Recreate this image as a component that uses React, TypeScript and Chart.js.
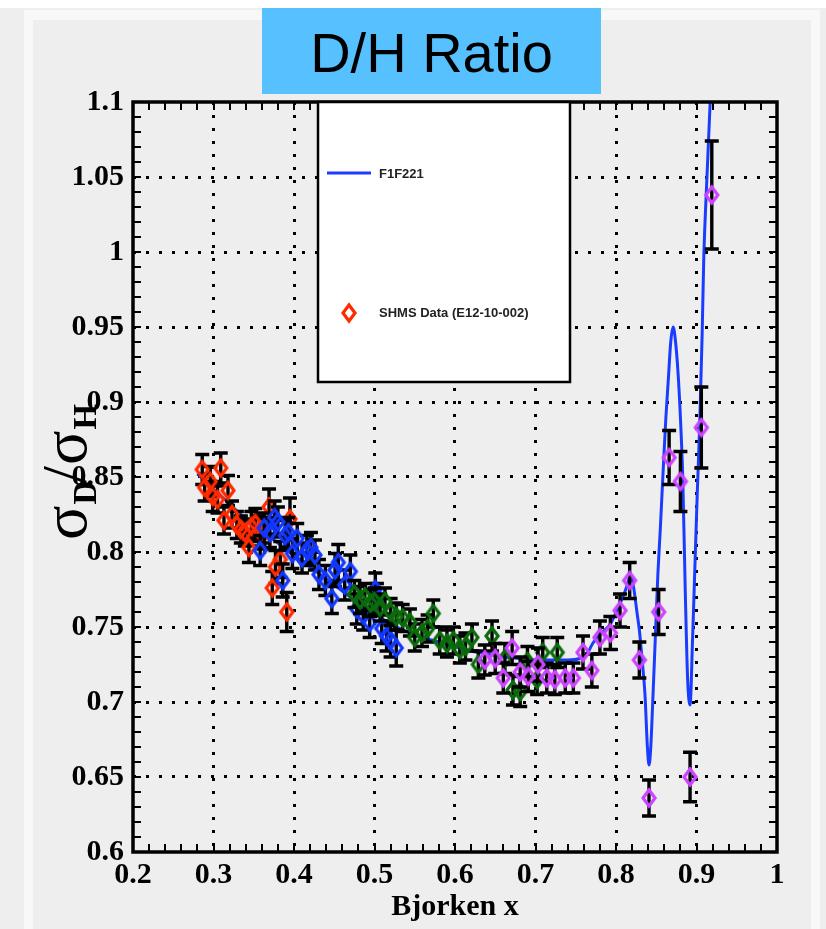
import { useEffect, useRef } from "react";
import { Chart, registerables } from "chart.js";

Chart.register(...registerables);

// SHMS D/H cross-section ratio, four kinematic settings
const redX = [0.286, 0.289, 0.296, 0.299, 0.305, 0.309, 0.313, 0.318, 0.323, 0.329, 0.334, 0.339, 0.344, 0.347, 0.352, 0.357, 0.362, 0.369, 0.373, 0.377, 0.383, 0.391, 0.395];
const redY = [0.855, 0.843, 0.847, 0.837, 0.835, 0.856, 0.821, 0.841, 0.825, 0.818, 0.815, 0.813, 0.803, 0.817, 0.819, 0.814, 0.812, 0.830, 0.776, 0.790, 0.795, 0.760, 0.822];
const redErr = [0.010, 0.009, 0.010, 0.010, 0.009, 0.010, 0.009, 0.010, 0.009, 0.009, 0.009, 0.009, 0.010, 0.010, 0.010, 0.010, 0.010, 0.012, 0.011, 0.011, 0.012, 0.013, 0.014];

const blueX = [0.358, 0.363, 0.370, 0.376, 0.380, 0.386, 0.389, 0.393, 0.398, 0.404, 0.410, 0.416, 0.421, 0.426, 0.431, 0.439, 0.447, 0.451, 0.455, 0.463, 0.470, 0.478, 0.486, 0.494, 0.501, 0.503, 0.509, 0.515, 0.520, 0.527];
const blueY = [0.801, 0.816, 0.813, 0.823, 0.820, 0.781, 0.811, 0.813, 0.799, 0.809, 0.796, 0.801, 0.803, 0.798, 0.785, 0.781, 0.769, 0.788, 0.793, 0.778, 0.787, 0.762, 0.758, 0.753, 0.775, 0.769, 0.749, 0.744, 0.741, 0.736];
const blueErr = [0.010, 0.010, 0.010, 0.011, 0.010, 0.011, 0.010, 0.010, 0.010, 0.010, 0.010, 0.010, 0.010, 0.010, 0.010, 0.010, 0.010, 0.011, 0.012, 0.010, 0.011, 0.010, 0.010, 0.010, 0.011, 0.010, 0.010, 0.010, 0.011, 0.012];

const greenX = [0.475, 0.482, 0.488, 0.495, 0.500, 0.507, 0.513, 0.520, 0.527, 0.535, 0.544, 0.550, 0.559, 0.566, 0.573, 0.581, 0.590, 0.598, 0.606, 0.613, 0.621, 0.629, 0.646, 0.662, 0.672, 0.681, 0.690, 0.702, 0.709, 0.727];
const greenY = [0.772, 0.768, 0.770, 0.766, 0.767, 0.763, 0.767, 0.760, 0.757, 0.756, 0.753, 0.743, 0.746, 0.749, 0.759, 0.741, 0.739, 0.741, 0.735, 0.737, 0.743, 0.725, 0.744, 0.729, 0.708, 0.707, 0.727, 0.715, 0.733, 0.733];
const greenErr = [0.009, 0.009, 0.009, 0.009, 0.009, 0.009, 0.009, 0.009, 0.009, 0.009, 0.009, 0.009, 0.009, 0.009, 0.009, 0.009, 0.009, 0.009, 0.009, 0.009, 0.009, 0.009, 0.010, 0.010, 0.010, 0.010, 0.010, 0.010, 0.010, 0.010];

const violetX = [0.637, 0.650, 0.660, 0.671, 0.681, 0.691, 0.703, 0.714, 0.724, 0.737, 0.747, 0.759, 0.770, 0.780, 0.793, 0.805, 0.817, 0.829, 0.841, 0.853, 0.866, 0.880, 0.892, 0.906, 0.919];
const violetY = [0.728, 0.729, 0.716, 0.736, 0.720, 0.717, 0.725, 0.716, 0.715, 0.716, 0.716, 0.733, 0.721, 0.743, 0.746, 0.761, 0.781, 0.728, 0.636, 0.760, 0.863, 0.847, 0.650, 0.883, 1.038];
const violetErr = [0.010, 0.010, 0.010, 0.011, 0.010, 0.010, 0.011, 0.010, 0.010, 0.010, 0.010, 0.011, 0.011, 0.011, 0.011, 0.011, 0.012, 0.012, 0.012, 0.015, 0.018, 0.020, 0.0165, 0.027, 0.036];

// F1F221 model curve
const modelX = [0.28, 0.30, 0.32, 0.34, 0.36, 0.38, 0.40, 0.42, 0.44, 0.46, 0.48, 0.50, 0.52, 0.54, 0.56, 0.58, 0.60, 0.62, 0.64, 0.66, 0.68, 0.70, 0.72, 0.74, 0.755, 0.765, 0.771, 0.780, 0.793, 0.802, 0.810, 0.814, 0.818, 0.822, 0.826, 0.829, 0.833, 0.836, 0.839, 0.841, 0.843, 0.846, 0.849, 0.852, 0.855, 0.858, 0.862, 0.865, 0.868, 0.871, 0.874, 0.877, 0.880, 0.883, 0.886, 0.889, 0.892, 0.895, 0.898, 0.901, 0.904, 0.907, 0.909, 0.913, 0.917, 0.921];
const modelY = [0.852, 0.842, 0.832, 0.822, 0.814, 0.806, 0.798, 0.790, 0.782, 0.774, 0.766, 0.759, 0.752, 0.747, 0.743, 0.740, 0.737, 0.734, 0.732, 0.730, 0.729, 0.728, 0.728, 0.728, 0.729, 0.733, 0.739, 0.745, 0.752, 0.762, 0.772, 0.778, 0.785, 0.776, 0.760, 0.748, 0.725, 0.705, 0.670, 0.658, 0.668, 0.705, 0.745, 0.785, 0.815, 0.848, 0.890, 0.915, 0.940, 0.950, 0.940, 0.920, 0.890, 0.848, 0.775, 0.715, 0.698, 0.740, 0.790, 0.840, 0.885, 0.945, 0.995, 1.050, 1.100, 1.150];

const xTicks = { min: 0.2, max: 1.0, step: 0.1, minor: 0.02 };
const yTicks = { min: 0.6, max: 1.1, step: 0.05, minor: 0.01 };

const RED = "#ff2a00";
const BLUE = "#1238ff";
const GREEN = "#0b6b0b";
const VIOLET = "#cc44ff";
const MODEL = "#1a3cff";

const SERIF = "'Liberation Serif', 'DejaVu Serif', serif";
const SANS = "'Liberation Sans', Arial, sans-serif";

function diamond(color: string): HTMLCanvasElement {
  const c = document.createElement("canvas");
  c.width = 18;
  c.height = 22;
  const g = c.getContext("2d")!;
  g.strokeStyle = color;
  g.lineWidth = 3.2;
  g.lineJoin = "miter";
  g.beginPath();
  g.moveTo(9, 3);
  g.lineTo(15, 11);
  g.lineTo(9, 19);
  g.lineTo(3, 11);
  g.closePath();
  g.stroke();
  return c;
}

function pts(xs: number[], ys: number[]) {
  return xs.map((x, i) => ({ x, y: ys[i] }));
}

const fmt = (v: number) => String(Number(v.toFixed(2)));

const errorBars = {
  id: "errorBars",
  beforeDatasetDraw(chart: any, args: any) {
    const ds = chart.data.datasets[args.index];
    if (!ds.errY) return;
    const { ctx, scales, chartArea } = chart;
    ctx.save();
    ctx.beginPath();
    ctx.rect(chartArea.left, chartArea.top, chartArea.right - chartArea.left, chartArea.bottom - chartArea.top);
    ctx.clip();
    ctx.strokeStyle = "#000";
    ctx.lineWidth = 3.4;
    ds.data.forEach((p: any, i: number) => {
      const px = scales.x.getPixelForValue(p.x);
      const hi = scales.y.getPixelForValue(p.y + ds.errY[i]);
      const lo = scales.y.getPixelForValue(p.y - ds.errY[i]);
      ctx.beginPath();
      ctx.moveTo(px, hi);
      ctx.lineTo(px, lo);
      ctx.moveTo(px - 7, hi);
      ctx.lineTo(px + 7, hi);
      ctx.moveTo(px - 7, lo);
      ctx.lineTo(px + 7, lo);
      ctx.stroke();
    });
    ctx.restore();
  },
};

const frame = {
  id: "frame",
  afterDatasetsDraw(chart: any) {
    const { ctx, chartArea: a, scales } = chart;
    ctx.save();
    ctx.strokeStyle = "#000";
    ctx.lineWidth = 2;
    ctx.beginPath();
    for (let v = xTicks.min; v <= xTicks.max + 1e-9; v += xTicks.minor) {
      const px = Math.round(scales.x.getPixelForValue(v));
      ctx.moveTo(px, a.bottom);
      ctx.lineTo(px, a.bottom - 8);
      ctx.moveTo(px, a.top);
      ctx.lineTo(px, a.top + 8);
    }
    for (let v = yTicks.min; v <= yTicks.max + 1e-9; v += yTicks.minor) {
      const py = Math.round(scales.y.getPixelForValue(v));
      ctx.moveTo(a.left, py);
      ctx.lineTo(a.left + 8, py);
      ctx.moveTo(a.right, py);
      ctx.lineTo(a.right - 8, py);
    }
    ctx.stroke();
    ctx.lineWidth = 3.5;
    ctx.strokeRect(a.left, a.top, a.right - a.left, a.bottom - a.top);
    ctx.restore();
  },
};

const legendBox = {
  id: "legendBox",
  afterDraw(chart: any) {
    const { ctx, chartArea: a } = chart;
    const l = 318, t = a.top, r = 570, b = 382;
    ctx.save();
    ctx.fillStyle = "#ffffff";
    ctx.fillRect(l, t, r - l, b - t);
    ctx.strokeStyle = "#000";
    ctx.lineWidth = 2.5;
    ctx.strokeRect(l, t, r - l, b - t);
    ctx.strokeStyle = MODEL;
    ctx.lineWidth = 3;
    ctx.beginPath();
    ctx.moveTo(327, 173);
    ctx.lineTo(371, 173);
    ctx.stroke();
    const d = diamond(RED);
    ctx.drawImage(d, 349 - d.width / 2, 313 - d.height / 2);
    ctx.fillStyle = "#222";
    ctx.font = `bold 13px ${SANS}`;
    ctx.textBaseline = "middle";
    ctx.fillText("F1F221", 379, 174);
    ctx.fillText("SHMS Data (E12-10-002)", 379, 313);
    ctx.restore();
  },
};

const yTitle = {
  id: "yTitle",
  afterDraw(chart: any) {
    const { ctx } = chart;
    ctx.save();
    ctx.translate(86, 540);
    ctx.rotate(-Math.PI / 2);
    ctx.fillStyle = "#000";
    ctx.textBaseline = "alphabetic";
    let x = 0;
    const big = `64px ${SERIF}`;
    const sub = `bold 33px ${SERIF}`;
    ctx.font = big;
    ctx.fillText("σ", x, 0);
    x += ctx.measureText("σ").width + 1;
    ctx.font = sub;
    ctx.fillText("D", x, 10);
    x += ctx.measureText("D").width - 3;
    ctx.font = big;
    ctx.fillText("/", x, 0);
    x += ctx.measureText("/").width + 1;
    ctx.fillText("σ", x, 0);
    x += ctx.measureText("σ").width + 1;
    ctx.font = sub;
    ctx.fillText("H", x, 10);
    ctx.restore();
  },
};

export default function App() {
  const ref = useRef<HTMLCanvasElement | null>(null);

  useEffect(() => {
    document.body.style.margin = "0";
    const canvas = ref.current!;
    const edgeColor = (min: number, max: number) => (c: any) => {
      const v = c.tick ? c.tick.value : NaN;
      return Math.abs(v - min) < 1e-6 || Math.abs(v - max) < 1e-6 ? "rgba(0,0,0,0)" : "#000";
    };
    const series = (label: string, xs: number[], ys: number[], errs: number[], color: string, order: number) => ({
      type: "scatter" as const,
      label,
      data: pts(xs, ys),
      errY: errs,
      pointStyle: diamond(color),
      pointRadius: 8,
      order,
    });
    const chart = new Chart(canvas, {
      type: "scatter",
      data: {
        datasets: [
          {
            type: "line",
            label: "F1F221",
            data: pts(modelX, modelY),
            borderColor: MODEL,
            borderWidth: 3,
            pointRadius: 0,
            fill: false,
            cubicInterpolationMode: "monotone",
            order: 10,
          } as any,
          series("SHMS 1", redX, redY, redErr, RED, 4),
          series("SHMS 2", blueX, blueY, blueErr, BLUE, 3),
          series("SHMS 3", greenX, greenY, greenErr, GREEN, 2),
          series("SHMS 4", violetX, violetY, violetErr, VIOLET, 1),
        ],
      },
      options: {
        animation: false,
        responsive: false,
        events: [],
        layout: { padding: { left: 0, top: 102, right: 49, bottom: 0 } },
        scales: {
          x: {
            type: "linear",
            min: xTicks.min,
            max: xTicks.max,
            ticks: {
              stepSize: xTicks.step,
              color: "#000",
              font: { family: SERIF, size: 30, weight: "bold" },
              padding: 5,
              maxRotation: 0,
              callback: (v: any) => fmt(Number(v)),
            },
            grid: { color: edgeColor(xTicks.min, xTicks.max), lineWidth: 3, drawTicks: false },
            border: { display: false, dash: [3, 10] },
            title: {
              display: true,
              text: "Bjorken x",
              color: "#000",
              font: { family: SERIF, size: 30, weight: "bold" },
              padding: { top: 0, bottom: 4 },
            },
            afterFit: (s: any) => {
              s.height = 77;
            },
          },
          y: {
            type: "linear",
            min: yTicks.min,
            max: yTicks.max,
            ticks: {
              stepSize: yTicks.step,
              color: "#000",
              font: { family: SERIF, size: 30, weight: "bold" },
              padding: 9,
              callback: (v: any) => fmt(Number(v)),
            },
            grid: { color: edgeColor(yTicks.min, yTicks.max), lineWidth: 3, drawTicks: false },
            border: { display: false, dash: [3, 10] },
            afterFit: (s: any) => {
              s.width = 133;
            },
          },
        },
        plugins: { legend: { display: false }, tooltip: { enabled: false } },
      } as any,
      plugins: [errorBars, frame, legendBox, yTitle],
    });
    return () => chart.destroy();
  }, []);

  return (
    <div style={{ position: "relative", width: 826, height: 929, background: "#eeeeee", overflow: "hidden" }}>
      <div style={{ position: "absolute", left: 0, top: 0, width: 826, height: 8, background: "#ffffff" }} />
      <div
        style={{
          position: "absolute",
          left: 24,
          top: 10,
          width: 796,
          height: 940,
          borderLeft: "9px solid #f8f8f8",
          borderTop: "10px solid #f8f8f8",
          borderRight: "9px solid #f8f8f8",
          boxSizing: "border-box",
        }}
      />
      <canvas ref={ref} width={826} height={929} style={{ position: "absolute", left: 0, top: 0 }} />
      <div
        style={{
          position: "absolute",
          left: 262,
          top: 8,
          width: 339,
          height: 86,
          paddingTop: 3,
          boxSizing: "border-box",
          background: "#56c1fe",
          color: "#000",
          fontFamily: SANS,
          fontSize: 56,
          lineHeight: "83px",
          textAlign: "center",
        }}
      >
        D/H Ratio
      </div>
    </div>
  );
}
